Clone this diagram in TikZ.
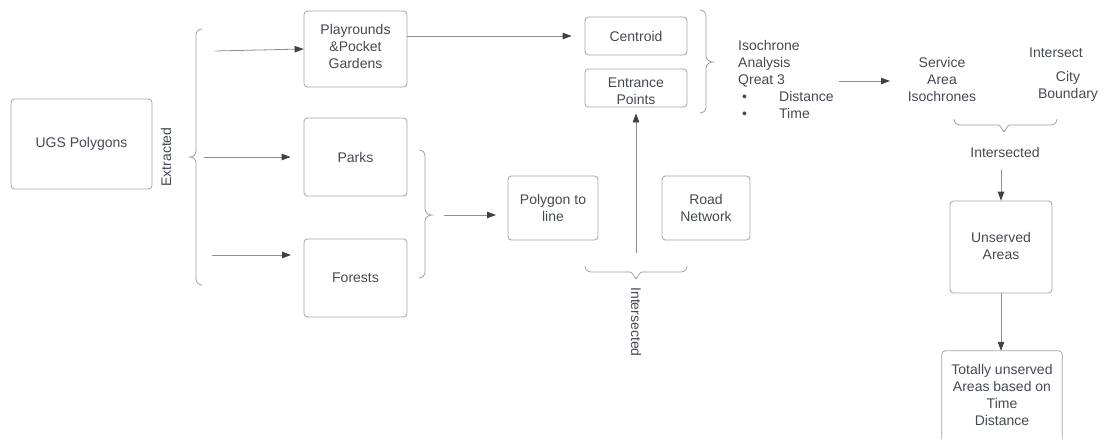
\documentclass[tikz,border=0pt]{standalone}
\usepackage{fontspec}
\setmainfont{Liberation Sans}
\usetikzlibrary{arrows.meta,calc}

\definecolor{txtgray}{HTML}{454952}
\definecolor{boxgray}{HTML}{A0A3A8}
\definecolor{bracegray}{HTML}{9DA0A6}
\definecolor{shaftgray}{HTML}{8B8E94}
\definecolor{headgray}{HTML}{3D4149}

\tikzset{
  lbl/.style={font=\fontsize{14}{17}\selectfont, text=txtgray, align=center, inner sep=0pt},
  box/.style={lbl, draw=boxgray, line width=0.8pt, rounded corners=3.5pt},
  flow/.style={draw=shaftgray, line width=0.8pt, -{Triangle[length=9pt,width=6.5pt,color=headgray]}},
  bracket/.style={draw=bracegray, line width=0.8pt}
}

\begin{document}
\begin{tikzpicture}[x=1pt,y=-1pt]
\useasboundingbox (0,0) rectangle (1105,439);

% boxes
\node[box, minimum width=141pt, minimum height=90pt] (ugs) at (81.5,144) {UGS Polygons};
\node[box, minimum width=103pt, minimum height=76pt] (play) at (355.5,49) {};
\node[lbl] (playtext) at (355.5,46.5) {Playrounds\\\&Pocket\\Gardens};
\node[box, minimum width=103pt, minimum height=78pt] (parks) at (355.5,157) {Parks};
\node[box, minimum width=103pt, minimum height=78pt] (forests) at (355.5,278) {Forests};
\node[box, minimum width=102pt, minimum height=38pt] (centroid) at (636,36) {Centroid};
\node[box, minimum width=102pt, minimum height=38pt] (entrance) at (636,88) {};
\node[lbl] (entrancetext) at (636,91.5) {Entrance\\Points};
\node[box, minimum width=90pt, minimum height=64pt] (polyline) at (553,208) {Polygon to\\line};
\node[box, minimum width=88pt, minimum height=64pt] (road) at (706,208) {Road\\Network};
\node[box, minimum width=102pt, minimum height=92pt] (unserved) at (1001,247) {};
\node[lbl] (unservedtext) at (1001,245.5) {Unserved\\Areas};
\node[lbl, minimum width=120pt, minimum height=88pt] (totally) at (1002,395) {Totally unserved\\Areas based on\\Time\\Distance};
\draw[draw=boxgray, line width=0.8pt, rounded corners=3.5pt]
  (totally.south west) |- (totally.north east) -- (totally.south east);

% free labels
\node[lbl, rotate=90] (extracted) at (166,157) {Extracted};
\node[lbl, rotate=-90] (intersected1) at (636,322) {Intersected};
\node[lbl, align=left, anchor=west] (iso) at (738,79)
  {Isochrone\\Analysis\\Qreat 3\\\makebox[41pt][l]{\hspace*{4pt}\textbullet}Distance\\\makebox[41pt][l]{\hspace*{4pt}\textbullet}Time};
\node[lbl] (service) at (942,79.5) {Service\\Area\\Isochrones};
\node[lbl] (intersect) at (1056,53) {Intersect};
\node[lbl] (city) at (1068,86) {City\\Boundary};
\node[lbl] (intersected2) at (1005,152) {Intersected};

% braces
\draw[bracket] (202,29) to[out=180,in=90] (196,35) -- (196,151)
  to[out=-90,in=0] (190,157) to[out=0,in=90] (196,163) -- (196,279)
  to[out=-90,in=180] (202,285);
\draw[bracket] (419,150) to[out=0,in=90] (425,156) -- (425,209)
  to[out=-90,in=180] (432,215) to[out=180,in=90] (425,221) -- (425,272)
  to[out=-90,in=0] (419,278);
\draw[bracket] (700,10) to[out=0,in=90] (706,16) -- (706,56)
  to[out=-90,in=180] (713,62) to[out=180,in=90] (706,68) -- (706,107)
  to[out=-90,in=0] (700,113);
\draw[bracket] (585,266) to[out=-90,in=180] (591,272) -- (630,272)
  to[out=0,in=-90] (636,278) to[out=-90,in=180] (642,272) -- (681,272)
  to[out=0,in=-90] (687,266);
\draw[bracket] (954,119) to[out=-90,in=180] (960,125) -- (998,125)
  to[out=0,in=-90] (1004,131) to[out=-90,in=180] (1010,125) -- (1051,125)
  to[out=0,in=-90] (1057,119);

% connector ends
\coordinate (ex1) at (215,51);
\coordinate (ex2) at (204,157);
\coordinate (ex3) at (212,255);
\coordinate (ex3end) at (291,255);
\coordinate (pfstart) at (444,215);
\coordinate (pfend) at (496,215);
\coordinate (rdstart) at (636,253);
\coordinate (isostart) at (839,81);
\coordinate (isoend) at (890,81);
\coordinate (unstart) at (1001,170);

% connectors
\draw[flow] (ex1) -- (play.west);
\draw[flow, shorten >=13pt] (ex2) -- (parks.west);
\draw[flow] (ex3) -- (ex3end);
\draw[flow, shorten >=13pt] (play.east |- centroid.west) -- (centroid.west);
\draw[flow] (pfstart) -- (pfend);
\draw[flow, shorten >=6pt] (rdstart) -- (entrance.south);
\draw[flow] (isostart) -- (isoend);
\draw[flow] (unstart) -- (unserved.north);
\draw[flow] (unserved.south) -- (unserved.south |- totally.north);
\end{tikzpicture}
\end{document}
